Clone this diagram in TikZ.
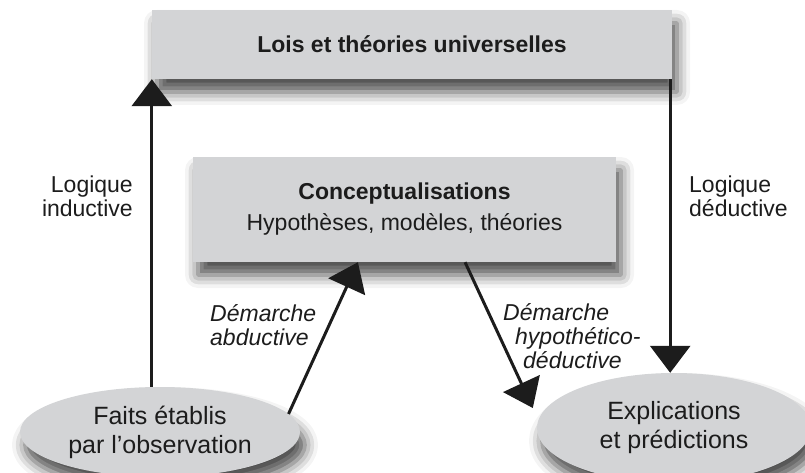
\documentclass[tikz,border=0pt]{standalone}
\usepackage{fontspec}
\setmainfont{Liberation Sans}
\usetikzlibrary{arrows.meta,shapes.geometric,shadows.blur,calc}
\definecolor{boxgray}{RGB}{211,212,214}
\definecolor{ink}{RGB}{28,28,28}
\begin{document}
\begin{tikzpicture}[x=1pt,y=-1pt,
  shad/.style={blur shadow={shadow xshift=5pt,shadow yshift=-13pt,shadow blur radius=13pt,shadow opacity=70}},
  boxnode/.style={rectangle,fill=boxgray,draw=none,shad,text=ink,inner sep=0pt,align=center},
  ellnode/.style={ellipse,fill=boxgray,draw=none,shad,text=ink,inner sep=0pt,align=center,font=\fontsize{25}{29}\selectfont},
  lbl/.style={text=ink,inner sep=0pt,font=\fontsize{23}{24}\selectfont},
  ilbl/.style={lbl,font=\fontsize{23}{24}\selectfont\itshape},
  arr/.style={draw=ink,line width=3pt,-{Triangle[length=27pt,width=40pt]}}]
\useasboundingbox (0,0) rectangle (805,473);
% boxes
\node[boxnode,minimum width=520pt,minimum height=69pt,font=\fontsize{23}{24}\selectfont\bfseries] (lois) at (412,44.5) {Lois et théories universelles};
\node[boxnode,minimum width=423pt,minimum height=105pt,font=\fontsize{23}{24}\selectfont] (concept) at (404.5,209.5) {{\bfseries Conceptualisations}\\[7pt]Hypothèses, modèles, théories};
% ellipses
\node[ellnode,minimum width=280pt,minimum height=90pt] (faits) at (160,432) {Faits établis\\par l'observation};
\node[ellnode,minimum width=274pt,minimum height=110pt] (expl) at (674,428) {Explications\\et prédictions};
% labels
\node[lbl,align=right,anchor=east] (lind) at (133,196.5) {Logique\\inductive};
\node[lbl,align=left,anchor=west] (lded) at (689,196.5) {Logique\\déductive};
\node[ilbl,align=left,anchor=west] (labd) at (210,325) {Démarche\\abductive};
\node[ilbl,align=left,anchor=west] (lhyp) at (503,336) {Démarche\\\hspace*{12pt}hypothético-\\\hspace*{20pt}déductive};
% arrows
\draw[arr] (faits.north -| lois.south west) -- (lois.south west);
\draw[arr] ([xshift=-2pt]lois.south east) -- ([xshift=-2pt]lois.south east |- expl.north);
\draw[arr] (faits.8) -- ($(concept.south west)!0.39!(concept.south east)$);
\draw[arr] ($(concept.south west)!0.643!(concept.south east)$) -- ([xshift=-4pt,yshift=20pt]expl.west);
\end{tikzpicture}
\end{document}
